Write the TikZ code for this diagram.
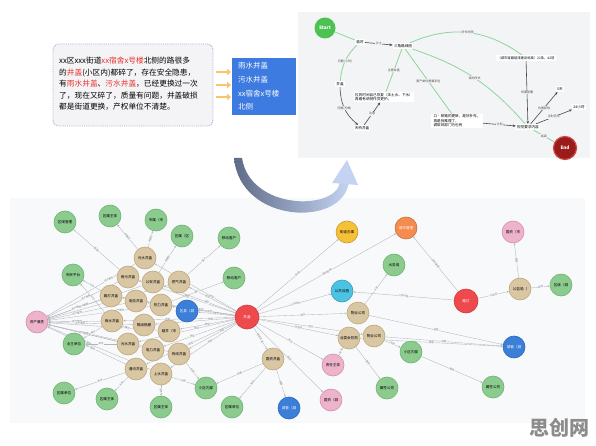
\documentclass[tikz,border=0pt]{standalone}
\usepackage{fontspec}
\setmainfont{Noto Sans CJK SC}
\usetikzlibrary{arrows.meta}
\definecolor{gfill}{HTML}{8CCB8E}\definecolor{gline}{HTML}{6FB372}
\definecolor{tfill}{HTML}{D9C6A2}\definecolor{tline}{HTML}{BFA77E}
\definecolor{pfill}{HTML}{EDB3CB}\definecolor{pline}{HTML}{D68FAE}
\definecolor{bfill}{HTML}{3B7FD9}\definecolor{bline}{HTML}{2E68B8}
\definecolor{rfill}{HTML}{EE4A4E}\definecolor{rline}{HTML}{D23A3E}
\definecolor{yfill}{HTML}{F7C137}\definecolor{ofill}{HTML}{F58C4F}
\definecolor{cfill}{HTML}{4DC3E3}
\definecolor{edgec}{HTML}{B3B6BC}
\definecolor{panA}{HTML}{F4F4F6}\definecolor{panB}{HTML}{F3F4F6}\definecolor{panC}{HTML}{F8F9FB}
\definecolor{boxb}{HTML}{A9B3D6}
\definecolor{redt}{HTML}{E8312F}
\definecolor{bluebox}{HTML}{3D7BE0}
\definecolor{yarr}{HTML}{F6C66E}
\definecolor{flg}{HTML}{8FD49B}\definecolor{flk}{HTML}{4A4A4A}
\definecolor{startg}{HTML}{4CC253}\definecolor{endr}{HTML}{9B1B1B}\definecolor{endb}{HTML}{C94848}
\definecolor{arcdark}{HTML}{5E6C88}\definecolor{arclight}{HTML}{C3D3F1}
\pgfdeclarelayer{bg}\pgfsetlayers{bg,main}
\newcommand\nf{\fontsize{3.6}{4}\selectfont}
\newcommand\ef{\fontsize{2.5}{3}\selectfont}
\tikzset{
 nd/.style={circle, minimum size=22pt, inner sep=0pt, line width=0.6pt, font=\nf},
 gn/.style={nd, fill=gfill, draw=gline},
 tn/.style={nd, fill=tfill, draw=tline},
 pn/.style={nd, fill=pfill, draw=pline},
 bn/.style={nd, fill=bfill, draw=bline, text=white},
 rn/.style={nd, fill=rfill, draw=rline, text=white, minimum size=24pt},
 yn/.style={nd, fill=yfill, draw=yfill!80!black},
 on/.style={nd, fill=ofill, draw=ofill!80!black, text=white},
 cn/.style={nd, fill=cfill, draw=cfill!80!black},
 ed/.style={draw=edgec, line width=0.35pt, -{Stealth[length=2.2pt,width=1.8pt]}},
 el/.style={sloped, font=\ef, text=gray, fill=panC, inner sep=0.3pt},
 fl/.style={font=\fontsize{3.6}{4.6}\selectfont, inner sep=1.2pt, fill=white},
 fel/.style={font=\fontsize{3}{3.5}\selectfont, inner sep=0.5pt, fill=panB, text=black!70},
 gl/.style={draw=flg, line width=0.8pt},
 bl/.style={draw=flk, line width=0.6pt, -{Stealth[length=3pt,width=2.5pt]}},
 yarrow/.style={draw=yarr, line width=2pt, -{Triangle[length=4pt,width=6.5pt]}}
}
\begin{document}
\begin{tikzpicture}[x=1pt,y=-1pt]
\useasboundingbox (0,0) rectangle (596,446);
\begin{pgfonlayer}{bg}
\fill[white] (0,0) rectangle (596,446);
% bottom panel
\fill[panC] (10,198) rectangle (585,423);
% top right panel
\fill[panB] (298,12) rectangle (590,158);
\end{pgfonlayer}

% text box
\draw[boxb, densely dotted, line width=0.9pt, fill=panA, rounded corners=6pt] (53,44) rectangle (213,126);
\node[anchor=north west, align=left, inner sep=0, font=\fontsize{7.7}{11.5}\selectfont] (para) at (59,57)
{xx区xxx街道\textcolor{redt}{xx宿舍x号楼}北侧的路很多\\
的\textcolor{redt}{井盖}(小区内)都碎了，存在安全隐患，\\
有\textcolor{redt}{雨水井盖}、\textcolor{redt}{污水井盖}，已经更换过一次\\
了，现在又碎了，质量有问题，井盖破损\\
都是街道更换，产权单位不清楚。};

% blue box
\node[fill=bluebox, minimum width=64pt, minimum height=57pt, inner sep=0] (bb) at (264,86.5) {};
\node[anchor=north west, align=left, inner sep=0, text=white, font=\fontsize{7.5}{13.8}\selectfont] (bbt) at (238,62)
{雨水井盖\\污水井盖\\xx宿舍x号楼\\北侧};
\coordinate (ya1) at (216,72);\coordinate (yb1) at (231,72);
\coordinate (ya2) at (216,85);\coordinate (yb2) at (231,85);
\coordinate (ya3) at (216,97);\coordinate (yb3) at (231,97);
\draw[yarrow] (ya1) -- (yb1);
\draw[yarrow] (ya2) -- (yb2);
\draw[yarrow] (ya3) -- (yb3);

% crescent arrow
\shade[left color=arcdark, right color=arclight] (234,158) .. controls (240,224) and (343,228) .. (349,182)
  -- (340,183) .. controls (334,211) and (250,210) .. (242,158) -- cycle;
\fill[arclight] (347,160) -- (358,185) -- (332,183) -- cycle;

% flowchart
\node[circle, fill=startg, minimum size=21pt, inner sep=0, text=white, font=\bfseries\fontsize{4.6}{5}\selectfont] (st) at (325,28) {Start};
\node[fl] (f1) at (360,42) {临时};
\node[fl] (f2) at (403,46) {三角路绿团};
\node[fl] (f3) at (340,84) {井盖};
\node[fl] (f4) at (362,128) {天桥井盖};
\node[fl, align=left] (f5) at (384,97) {拉的时间自己恢复（本土水、下水）\\再看有说明作员更护。};
\node[fl, align=left, minimum width=52pt] (f6) at (457,121) {口·研路的更新，是好补充，\\再是拆推理了，\\调取到部门为也有};
\node[fl, font=\fontsize{3.3}{4}\selectfont] (f7) at (526,58) {（城市道路铭排建设标准）21条，42项};
\node[fl] (f8) at (528,127) {视觉要求内容};
\node[fl] (f9) at (560,89) {5天};
\node[fl] (f10) at (579,107) {24小时};
\node[circle, fill=endr, draw=endb, line width=1.2pt, minimum size=23pt, inner sep=0, text=white, font=\bfseries\fontsize{4.6}{5}\selectfont] (en) at (565,148) {End};
\begin{pgfonlayer}{bg}
\draw[gl] (st) -- (f1);
\draw[bl] (f1) -- node[fel]{沙土} (f2);
\draw[gl] (f1) to[bend right=20] node[fel]{问题(小时)} (f3);
\draw[bl] (f3) to[bend right=25] node[fel]{问题(天数)} (f4);
\draw[bl] (f4) -- node[fel]{注意} (f5);
\draw[gl] (f2) -- node[fel]{注意井盖} (f5);
\draw[gl] (f2) -- node[fel]{更产单位是属系包} (f6);
\draw[gl] (f2) to[bend left=15] node[fel]{说的所关} (f8);
\draw[gl] (f2) to[bend left=30] node[fel]{所长时限} (f7);
\draw[bl] (f7) -- node[fel]{所属部署} (f8);
\draw[bl] (f6) -- node[fel]{计划} (f8);
\draw[bl] (f8) -- node[fel]{位置影响} (f9);
\draw[bl] (f8) -- node[fel]{当时完毕} (f10);
\draw[gl] (f8) -- node[fel]{结束} (en);
\end{pgfonlayer}

% graph nodes - left
\node[gn] (g1) at (65,222) {区域管理};
\node[gn] (g2) at (110,216) {区属主体};
\node[gn] (g3) at (156,220) {市属（市};
\node[gn] (g4) at (182,236) {区属（区};
\node[gn] (g5) at (229,238) {移动客户};
\node[gn] (g6) at (73,275) {市民平台};
\node[gn] (g7) at (234,278) {移动客户};
\node[gn] (g8) at (74,344) {业主单位};
\node[gn] (g9) at (64,393) {区属单位};
\node[gn] (g10) at (107,399) {区属主体};
\node[gn] (g11) at (161,407) {区属主体};
\node[gn] (g12) at (206,388) {小区内部};
\node[gn] (g13) at (232,407) {区属单位};
\node[pn] (pL) at (37,322) {资产属性};
\node[bn] (bA) at (187,311) {区县（城};
\node[rn] (r1) at (247,317) {井盖};
\node[tn] (c1) at (145,258) {污水井盖};
\node[tn] (c2) at (128,277) {雨污井盖};
\node[tn] (c3) at (153,282) {公安井盖};
\node[tn] (c4) at (179,282) {燃气井盖};
\node[tn] (c5) at (111,296) {路灯井盖};
\node[tn] (c6) at (136,301) {电信井盖};
\node[tn] (c7) at (161,305) {热力井盖};
\node[tn] (c8) at (112,321) {雨水井盖};
\node[tn] (c9) at (144,325) {隔油格栅};
\node[tn] (c10) at (169,331) {疑井（市};
\node[tn] (c11) at (128,344) {污水井盖};
\node[tn] (c12) at (153,350) {电力井盖};
\node[tn] (c13) at (179,354) {有线井盖};
\node[tn] (c14) at (136,369) {通讯井盖};
\node[tn] (c15) at (161,374) {上水井盖};
\node[tn] (tp) at (273,359) {国资井盖};
\node[bn] (bB) at (289,408) {城管（城};
% right
\node[yn] (ye) at (347,232) {街道办事};
\node[on] (or) at (406,228) {城市管理};
\node[gn] (gw) at (394,265) {水务局};
\node[cn] (cy) at (342,291) {公共设施};
\node[tn] (tq) at (358,313) {物业公司};
\node[rn] (r2) at (466,301) {路灯};
\node[tn] (tr) at (520,289) {公益局（};
\node[pn] (pk1) at (513,232) {国资（市};
\node[gn] (gr) at (561,285) {区级（城};
\node[tn] (ts) at (349,338) {业委会机构};
\node[tn] (tt) at (374,336) {物业公司};
\node[gn] (gx) at (411,352) {小区内部};
\node[bn] (bC) at (514,347) {城管（城};
\node[pn] (pk2) at (333,365) {责任主体};
\node[gn] (gy) at (387,388) {属性公司};
\node[gn] (gz) at (493,387) {属性公司};
\node[pn] (pk3) at (331,400) {国资（城};

\begin{pgfonlayer}{bg}
\foreach \t/\p in {c1/0.3,c2/0.45,c3/0.62,c4/0.3,c5/0.45,c6/0.62,c7/0.3,c8/0.45,c9/0.62,c10/0.3,c11/0.45,c12/0.62,c13/0.3,c14/0.45,c15/0.62}
  \draw[ed] (\t) -- node[el, pos=\p]{资产属性} (pL);
\foreach \t/\p in {c1/0.3,c2/0.5,c3/0.4,c4/0.6,c5/0.3,c6/0.5,c7/0.4,c8/0.6,c9/0.3,c10/0.5,c11/0.4,c12/0.6,c13/0.3,c14/0.5,c15/0.4,bA/0.5}
  \draw[ed] (r1) -- node[el, pos=\p]{类型} (\t);
\foreach \a/\b/\l in {c1/g2/所属区,c1/g3/所属市,c2/g1/管理,c3/g4/所属区,c4/g5/客户,c7/g7/客户,
  c5/g6/平台,c8/g6/平台,c11/g8/单位,c8/g8/单位,c14/g9/单位,c14/g10/主体,c15/g11/主体,
  c13/g12/内部,c15/g12/内部,r1/tp/国资井盖,tp/g12/所属,tp/g13/单位,tp/bB/城管,
  r1/ye/街道,r1/or/城市管理,r1/cy/公共设施,r1/tq/物业,r1/ts/业委会,r1/tt/物业,r1/pk2/责任,r1/pk3/国资,
  r2/or/城市管理,r2/cy/公共设施,r2/tr/公益局,tr/pk1/国资,tr/gr/区级,
  tq/gw/水务,tq/bC/城管,ts/bC/城管,ts/pk2/责任,ts/gy/属性,tt/gx/内部,tt/bC/城管,gx/gz/属性}
  \draw[ed] (\a) -- node[el]{\l} (\b);
\end{pgfonlayer}

% watermark
\node[text=black!45, font=\bfseries\fontsize{20}{22}\selectfont, inner sep=0] (wm) at (559,428) {思创网};
\end{tikzpicture}
\end{document}
